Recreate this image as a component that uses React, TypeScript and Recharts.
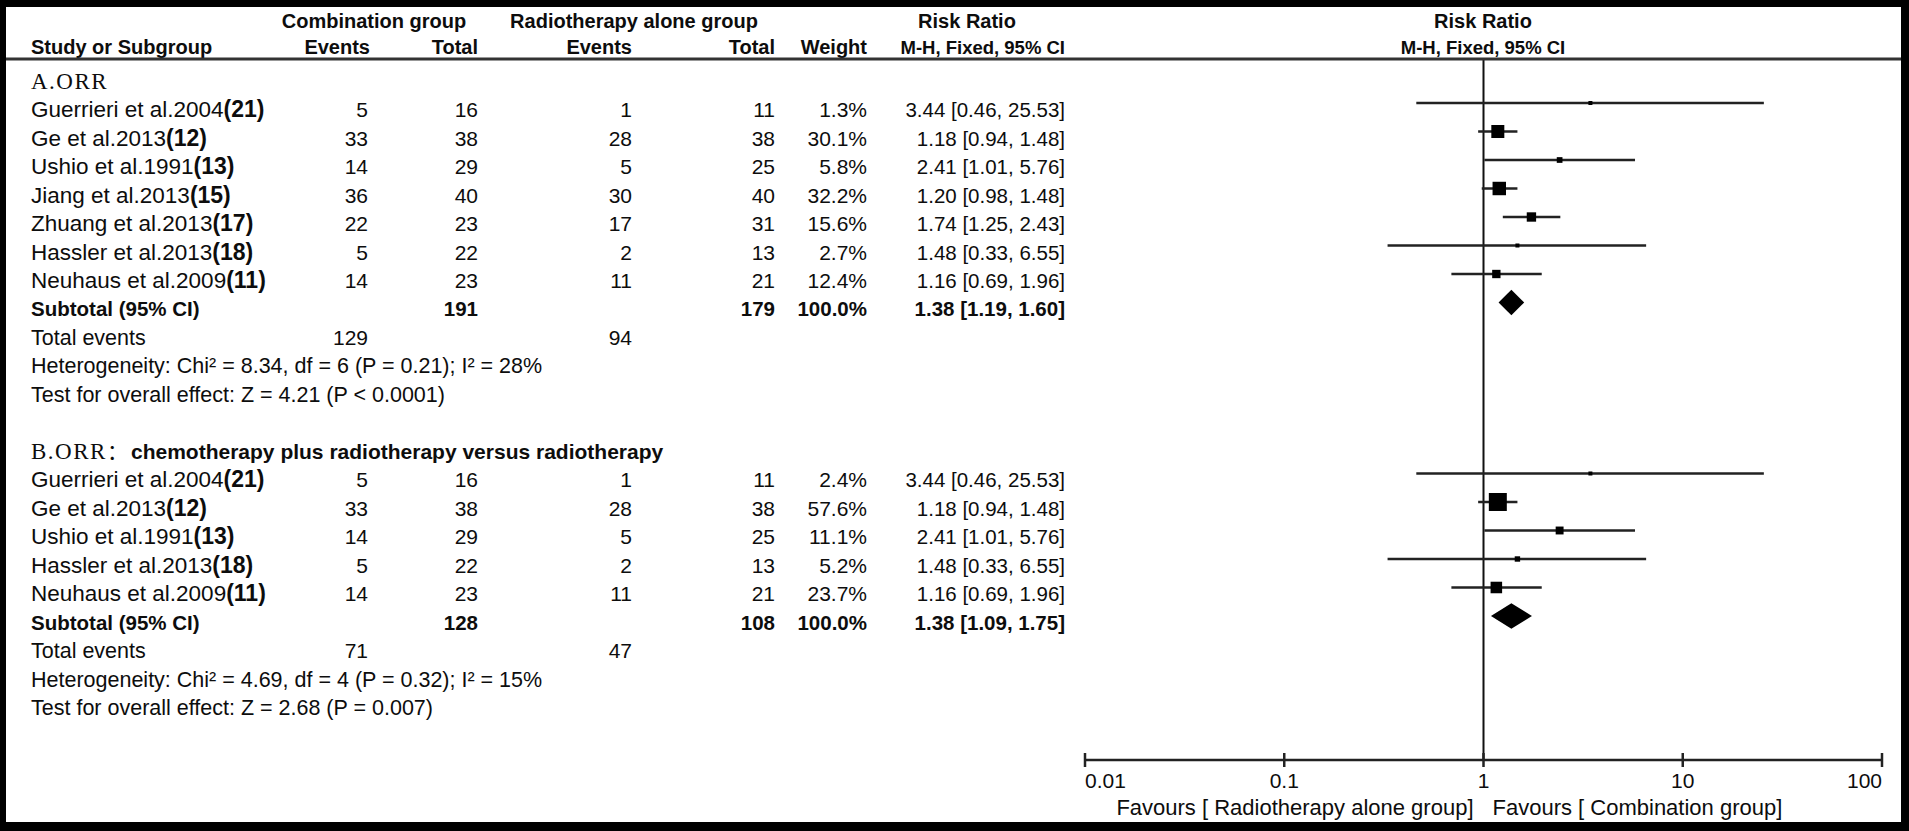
import React from 'react';
import { ComposedChart, Scatter, Area, XAxis, YAxis, ErrorBar, ReferenceLine } from 'recharts';

const FONT = '"Liberation Sans", Arial, sans-serif';
const SERIF = '"Liberation Serif", "Times New Roman", serif';
const CJK = '"Noto Sans CJK SC", sans-serif';

// ---------- data ----------
const studiesA = ['Guerrieri et al.2004', 'Ge et al.2013', 'Ushio et al.1991', 'Jiang et al.2013', 'Zhuang et al.2013', 'Hassler et al.2013', 'Neuhaus et al.2009'];
const refsA = ['(21)', '(12)', '(13)', '(15)', '(17)', '(18)', '(11)'];
const combEventsA = [5, 33, 14, 36, 22, 5, 14];
const combTotalA = [16, 38, 29, 40, 23, 22, 23];
const radEventsA = [1, 28, 5, 30, 17, 2, 11];
const radTotalA = [11, 38, 25, 40, 31, 13, 21];
const weightA = [1.3, 30.1, 5.8, 32.2, 15.6, 2.7, 12.4];
const rrA = [3.44, 1.18, 2.41, 1.2, 1.74, 1.48, 1.16];
const lowA = [0.46, 0.94, 1.01, 0.98, 1.25, 0.33, 0.69];
const highA = [25.53, 1.48, 5.76, 1.48, 2.43, 6.55, 1.96];

const studiesB = ['Guerrieri et al.2004', 'Ge et al.2013', 'Ushio et al.1991', 'Hassler et al.2013', 'Neuhaus et al.2009'];
const refsB = ['(21)', '(12)', '(13)', '(18)', '(11)'];
const combEventsB = [5, 33, 14, 5, 14];
const combTotalB = [16, 38, 29, 22, 23];
const radEventsB = [1, 28, 5, 2, 11];
const radTotalB = [11, 38, 25, 13, 21];
const weightB = [2.4, 57.6, 11.1, 5.2, 23.7];
const rrB = [3.44, 1.18, 2.41, 1.48, 1.16];
const lowB = [0.46, 0.94, 1.01, 0.33, 0.69];
const highB = [25.53, 1.48, 5.76, 6.55, 1.96];

const groupLabels = ['A.ORR', 'B.ORR'];
const groupSubtitles = ['', 'chemotherapy plus radiotherapy versus radiotherapy'];
const subtotalComb = [191, 128];
const subtotalRad = [179, 108];
const pooledRR = [1.38, 1.38];
const pooledLow = [1.19, 1.09];
const pooledHigh = [1.6, 1.75];
const totalEventsComb = [129, 71];
const totalEventsRad = [94, 47];
const heterogeneity = [
  'Heterogeneity: Chi² = 8.34, df = 6 (P = 0.21); I² = 28%',
  'Heterogeneity: Chi² = 4.69, df = 4 (P = 0.32); I² = 15%',
];
const overallEffect = [
  'Test for overall effect: Z = 4.21 (P < 0.0001)',
  'Test for overall effect: Z = 2.68 (P = 0.007)',
];

const xTicks = [0.01, 0.1, 1, 10, 100];
const xTickLabels = ['0.01', '0.1', '1', '10', '100'];
const favoursLeft = 'Favours [ Radiotherapy alone group]';
const favoursRight = 'Favours [ Combination group]';

const headerTop = ['Combination group', 'Radiotherapy alone group', 'Risk Ratio', 'Risk Ratio'];
const headerBottom = ['Study or Subgroup', 'Events', 'Total', 'Events', 'Total', 'Weight', 'M-H, Fixed, 95% CI', 'M-H, Fixed, 95% CI'];

// ---------- layout ----------
const W = 1909;
const H = 831;
const Y_MIN = -0.544;
const Y_MAX = 24.053;
const DIAMOND_HALF = 0.45;
const TEXT_DY = 14;
const COL = { name: 31, ce: 368, ct: 478, re: 632, rt: 775, w: 867, ci: 1065 };

const groups = [
  { studies: studiesA, refs: refsA, ce: combEventsA, ct: combTotalA, re: radEventsA, rt: radTotalA, w: weightA, rr: rrA, lo: lowA, hi: highA },
  { studies: studiesB, refs: refsB, ce: combEventsB, ct: combTotalB, re: radEventsB, rt: radTotalB, w: weightB, rr: rrB, lo: lowB, hi: highB },
];

const fmtCI = (r: number, l: number, h: number) => `${r.toFixed(2)} [${l.toFixed(2)}, ${h.toFixed(2)}]`;

const tableRows: any[] = [];
const studyPoints: any[] = [];
const diamonds: any[][] = [];
let start = 0;
groups.forEach((g, gi) => {
  tableRows.push({ x: 1, y: start, kind: 'group', label: groupLabels[gi], sub: groupSubtitles[gi] });
  g.studies.forEach((s, i) => {
    const r = start + 1 + i;
    tableRows.push({
      x: 1, y: r, kind: 'study', name: s, ref: g.refs[i],
      ce: g.ce[i], ct: g.ct[i], re: g.re[i], rt: g.rt[i],
      w: `${g.w[i].toFixed(1)}%`, ci: fmtCI(g.rr[i], g.lo[i], g.hi[i]),
    });
    studyPoints.push({ x: g.rr[i], y: r, err: [g.rr[i] - g.lo[i], g.hi[i] - g.rr[i]], weight: g.w[i] });
  });
  const n = g.studies.length;
  const rs = start + n + 1;
  tableRows.push({ x: 1, y: rs, kind: 'subtotal', ct: subtotalComb[gi], rt: subtotalRad[gi], w: '100.0%', ci: fmtCI(pooledRR[gi], pooledLow[gi], pooledHigh[gi]) });
  tableRows.push({ x: 1, y: rs + 1, kind: 'events', ce: totalEventsComb[gi], re: totalEventsRad[gi] });
  tableRows.push({ x: 1, y: rs + 2, kind: 'note', text: heterogeneity[gi] });
  tableRows.push({ x: 1, y: rs + 3, kind: 'note', text: overallEffect[gi] });
  diamonds.push([
    { x: pooledLow[gi], y: [rs, rs] },
    { x: pooledRR[gi], y: [rs - DIAMOND_HALF, rs + DIAMOND_HALF] },
    { x: pooledHigh[gi], y: [rs, rs] },
  ]);
  start = rs + 5;
});

// ---------- renderers ----------
const txt = { fontFamily: FONT, fill: '#0d0d0d' } as const;

const TableRow = (p: any) => {
  const d = p.payload;
  const y = p.cy + TEXT_DY;
  if (d.kind === 'group') {
    return (
      <g>
        <text x={COL.name} y={y} fontFamily={SERIF} fontSize={23} letterSpacing={1.5} fill="#0d0d0d">
          {d.label}
          {d.sub ? <tspan fontFamily={CJK} fontSize={21}>：</tspan> : null}
        </text>
        {d.sub ? <text x={131} y={y} {...txt} fontSize={21} fontWeight="bold">{d.sub}</text> : null}
      </g>
    );
  }
  if (d.kind === 'study') {
    return (
      <g fontSize={21}>
        <text x={COL.name} y={y} {...txt} fontSize={22.5}>
          {d.name}
          <tspan fontWeight="bold" fontSize={23}>{d.ref}</tspan>
        </text>
        <text x={COL.ce} y={y} {...txt} textAnchor="end">{d.ce}</text>
        <text x={COL.ct} y={y} {...txt} textAnchor="end">{d.ct}</text>
        <text x={COL.re} y={y} {...txt} textAnchor="end">{d.re}</text>
        <text x={COL.rt} y={y} {...txt} textAnchor="end">{d.rt}</text>
        <text x={COL.w} y={y} {...txt} textAnchor="end">{d.w}</text>
        <text x={COL.ci} y={y} {...txt} textAnchor="end" fontSize={20.5}>{d.ci}</text>
      </g>
    );
  }
  if (d.kind === 'subtotal') {
    return (
      <g fontSize={20.5} fontWeight="bold">
        <text x={COL.name} y={y} {...txt}>Subtotal (95% CI)</text>
        <text x={COL.ct} y={y} {...txt} textAnchor="end">{d.ct}</text>
        <text x={COL.rt} y={y} {...txt} textAnchor="end">{d.rt}</text>
        <text x={COL.w} y={y} {...txt} textAnchor="end">{d.w}</text>
        <text x={COL.ci} y={y} {...txt} textAnchor="end">{d.ci}</text>
      </g>
    );
  }
  if (d.kind === 'events') {
    return (
      <g fontSize={21}>
        <text x={COL.name} y={y} {...txt} fontSize={21.5}>Total events</text>
        <text x={COL.ce} y={y} {...txt} textAnchor="end">{d.ce}</text>
        <text x={COL.re} y={y} {...txt} textAnchor="end">{d.re}</text>
      </g>
    );
  }
  return (
    <text x={COL.name} y={y} {...txt} fontSize={21.5}>{d.text}</text>
  );
};

const Square = (p: any) => {
  const s = Math.max(4, 2.37 * Math.sqrt(p.payload.weight));
  return <rect x={p.cx - s / 2} y={p.cy - s / 2} width={s} height={s} fill="#000" />;
};

const AxisTick = (p: any) => {
  const { x, y, payload } = p;
  const i = xTicks.indexOf(payload.value);
  const anchor = i === 0 ? 'start' : i === xTicks.length - 1 ? 'end' : 'middle';
  return (
    <g>
      <line x1={x} x2={x} y1={y - 7} y2={y + 7} stroke="#222" strokeWidth={2.5} />
      <text x={x} y={y + 28} textAnchor={anchor} fontSize={21} {...txt}>{xTickLabels[i]}</text>
      {payload.value === 1 ? (
        <g>
          <text x={x - 10} y={y + 55} textAnchor="end" fontSize={22} {...txt}>{favoursLeft}</text>
          <text x={x + 9} y={y + 55} textAnchor="start" fontSize={22} {...txt}>{favoursRight}</text>
        </g>
      ) : null}
    </g>
  );
};

const Header = () => (
  <svg width={W} height={H} style={{ position: 'absolute', left: 0, top: 0, pointerEvents: 'none' }}>
    <g fontFamily={FONT} fontWeight="bold" fontSize={20} fill="#0d0d0d">
      <text x={374} y={28} textAnchor="middle">{headerTop[0]}</text>
      <text x={634} y={28} textAnchor="middle">{headerTop[1]}</text>
      <text x={967} y={28} textAnchor="middle">{headerTop[2]}</text>
      <text x={1483} y={28} textAnchor="middle">{headerTop[3]}</text>
      <text x={31} y={54}>{headerBottom[0]}</text>
      <text x={370} y={54} textAnchor="end">{headerBottom[1]}</text>
      <text x={478} y={54} textAnchor="end">{headerBottom[2]}</text>
      <text x={632} y={54} textAnchor="end">{headerBottom[3]}</text>
      <text x={775} y={54} textAnchor="end">{headerBottom[4]}</text>
      <text x={867} y={54} textAnchor="end">{headerBottom[5]}</text>
      <text x={1065} y={54} textAnchor="end" fontSize={18.5}>{headerBottom[6]}</text>
      <text x={1483} y={54} textAnchor="middle" fontSize={18.5}>{headerBottom[7]}</text>
    </g>
    <line x1={6} x2={1901} y1={59} y2={59} stroke="#333" strokeWidth={3} />
  </svg>
);

export default function App() {
  return (
    <div style={{ position: 'absolute', left: 0, top: 0, width: W, height: H, background: '#000', overflow: 'hidden' }}>
      <div style={{ position: 'absolute', left: 6, top: 7, width: 1895, height: 815, background: '#fff' }} />
      <div style={{ position: 'absolute', left: 0, top: 0 }}>
        <ComposedChart width={W} height={H} margin={{ top: 59, right: 27, bottom: 41, left: 1085 }}>
          <XAxis
            dataKey="x"
            type="number"
            scale="log"
            domain={[0.01, 100]}
            ticks={xTicks}
            interval={0}
            tickSize={0}
            tickMargin={0}
            tickLine={false}
            height={30}
            axisLine={{ stroke: '#222', strokeWidth: 2.5 }}
            tick={(p: any) => <AxisTick {...p} />}
          />
          <YAxis dataKey="y" type="number" domain={[Y_MIN, Y_MAX]} reversed hide />
          <ReferenceLine x={1} stroke="#111" strokeWidth={2} />
          {diamonds.map((d, i) => (
            <Area key={i} data={d} dataKey="y" type="linear" fill="#000" fillOpacity={1} stroke="none" isAnimationActive={false} />
          ))}
          <Scatter data={studyPoints} shape={(p: any) => <Square {...p} />} isAnimationActive={false}>
            <ErrorBar dataKey="err" direction="x" width={0} stroke="#222" strokeWidth={2.5} isAnimationActive={false} />
          </Scatter>
          <Scatter data={tableRows} shape={(p: any) => <TableRow {...p} />} isAnimationActive={false} />
        </ComposedChart>
      </div>
      <Header />
    </div>
  );
}
